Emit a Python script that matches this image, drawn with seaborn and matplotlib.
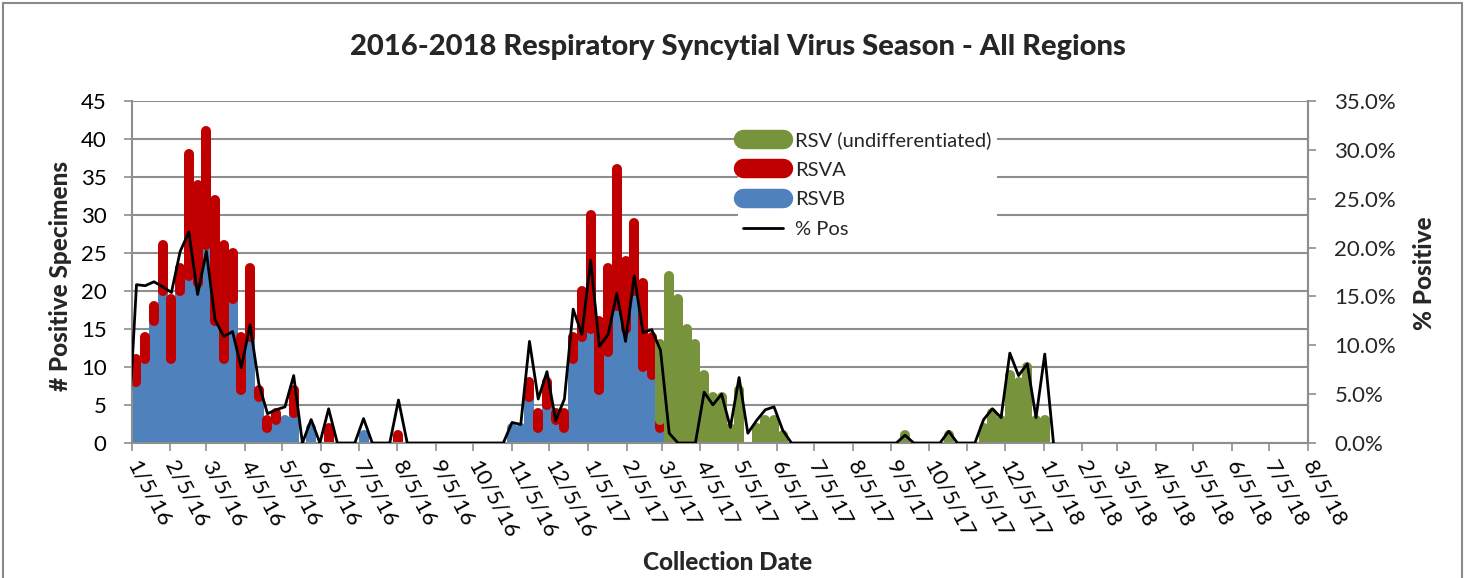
import matplotlib
matplotlib.use("Agg")
import matplotlib.pyplot as plt
from matplotlib.lines import Line2D
from matplotlib.patches import Rectangle
from matplotlib.ticker import FuncFormatter
import numpy as np
import pandas as pd
import seaborn as sns

# weekly data, week ending Saturday, 1/2/16 .. 1/13/18
week_start = "2016-01-02"
n_weeks = 107

rsvb = [0, 8, 11, 16, 20, 11, 20, 22, 21, 26, 16, 11, 19, 7, 14, 6, 2, 3, 3, 4,
        0, 2, 0, 0, 0, 0, 0, 1] + [0] * 16 + \
       [2, 2, 6, 2, 5, 3, 2, 11, 14, 15, 7, 12, 18, 15, 20, 10, 9, 2] + [0] * 45

rsva = [0, 3, 3, 2, 6, 8, 3, 16, 13, 15, 16, 15, 6, 7, 9, 1, 1, 1, 0, 3,
        0, 0, 0, 2, 0, 0, 0, 0, 0, 0, 0, 1] + [0] * 12 + \
       [0, 0, 2, 2, 3, 1, 2, 3, 6, 15, 9, 11, 18, 9, 9, 11, 5, 1] + [0] * 45

rsv_undiff = [0] * 61 + \
             [10, 22, 19, 15, 13, 9, 6, 6, 2, 7, 0, 2, 3, 3, 1] + [0] * 13 + \
             [1, 0, 0, 0, 0, 1, 0, 0, 0, 2, 4, 3, 9, 8, 10, 3, 3, 0]

pct_pos = [0, 16.2, 16.1, 16.5, 16.0, 15.4, 19.6, 21.6, 15.2, 19.6, 12.6, 10.9,
           11.4, 7.7, 12.1, 6.1, 3.0, 3.4, 3.7, 6.9, 0, 2.4, 0, 3.5, 0, 0, 0,
           2.5, 0, 0, 0, 4.4] + [0] * 12 + \
          [2.1, 1.9, 10.4, 4.5, 7.3, 2.3, 4.5, 13.7, 11.1, 18.7, 9.9, 11.1,
           15.3, 10.4, 17.1, 11.3, 11.6, 9.5, 1.0, 0, 0, 0, 5.2, 3.9, 5.0, 1.6,
           6.7, 1.0, 2.3, 3.4, 3.7, 1.3] + [0] * 13 + \
          [0.8, 0, 0, 0, 0, 1.2, 0, 0, 0, 2.4, 3.5, 2.6, 9.2, 6.9, 8.1, 2.6, 9.1, 0]

tick_dates = pd.date_range("2016-01-05", "2018-08-05", freq=pd.DateOffset(months=1))
tick_labels = [f"{d.month}/{d.day}/{d.year % 100}" for d in tick_dates]

df = pd.DataFrame({
    "date": pd.date_range(week_start, periods=n_weeks, freq="7D"),
    "RSVB": rsvb,
    "RSVA": rsva,
    "RSV": rsv_undiff,
    "pct": pct_pos,
})

BLUE = "#4F81BD"
RED = "#C00000"
GREEN = "#77933C"
GRID = "#8E8E8E"

sns.set_theme(style="white")
plt.rcParams["font.family"] = ["Lato", "DejaVu Sans"]

W, H = 1469, 578
fig = plt.figure(figsize=(W / 100, H / 100), dpi=100)
x0, x1, y0, y1 = 131.5, 1308, 101, 443
ax = fig.add_axes([x0 / W, 1 - y1 / H, (x1 - x0) / W, (y1 - y0) / H])

# stacked weekly columns drawn as thick rounded strokes
lw_bar = 7.2
b = df["RSVB"].to_numpy()
a = df["RSVA"].to_numpy()
g = df["RSV"].to_numpy()
d = df["date"].to_numpy()
for bottom, height, col in [(np.zeros(n_weeks), b, BLUE), (b, a, RED), (b + a, g, GREEN)]:
    m = height > 0
    ax.vlines(d[m], bottom[m], (bottom + height)[m], colors=col,
              linewidth=lw_bar, capstyle="round", zorder=2)

ax.set_ylim(0, 45)
ax.set_yticks(range(0, 46, 5))
ax.set_xlim(tick_dates[0], tick_dates[-1])
ax.set_xticks(tick_dates)
ax.set_xticklabels(tick_labels, rotation=-62, ha="left", va="center",
                   rotation_mode="anchor")
ax.grid(axis="y", color=GRID, linewidth=1.5)
ax.set_axisbelow(True)
for side in ["left", "bottom", "right"]:
    ax.spines[side].set_color(GRID)
    ax.spines[side].set_linewidth(1.5)
ax.spines["top"].set_visible(False)
ax.tick_params(axis="both", direction="out", length=6, width=1.2, color=GRID,
               labelsize=16, labelcolor="black")
ax.tick_params(axis="x", pad=8, bottom=True)
ax.tick_params(axis="y", left=True, pad=12)

ax2 = ax.twinx()
sns.lineplot(data=df, x="date", y="pct", ax=ax2, color="black", linewidth=2.0,
             zorder=3)
ax2.set_ylim(0, 35)
ax2.set_yticks(range(0, 36, 5))
ax2.yaxis.set_major_formatter(FuncFormatter(lambda v, p: f"{v:.1f}%"))
ax2.set_xlim(tick_dates[0], tick_dates[-1])
ax2.set_ylabel("")
ax2.set_xlabel("")
for side in ["left", "top", "bottom"]:
    ax2.spines[side].set_visible(False)
ax2.spines["right"].set_color(GRID)
ax2.spines["right"].set_linewidth(1.5)
ax2.tick_params(axis="y", right=True, direction="out", length=6, width=1.2,
                color=GRID, labelsize=16, pad=13)
ax.set_xlabel("")
ax.set_ylabel("")

handles = [
    Line2D([], [], color=GREEN, lw=14, solid_capstyle="round"),
    Line2D([], [], color=RED, lw=14, solid_capstyle="round"),
    Line2D([], [], color=BLUE, lw=14, solid_capstyle="round"),
    Line2D([], [], color="black", lw=2),
]
leg = ax2.legend(handles, ["RSV (undifferentiated)", "RSVA", "RSVB", "% Pos"],
                 loc="upper left", bbox_to_anchor=((738 - x0) / (x1 - x0), (y1 - 126) / (y1 - y0)),
                 borderaxespad=0, frameon=True, fontsize=14.5, handlelength=2.0,
                 handletextpad=0.6, labelspacing=0.62, borderpad=0.25)
leg.get_frame().set_facecolor("white")
leg.get_frame().set_edgecolor("none")
leg.get_frame().set_alpha(1)

fig.text(738 / W, 1 - 47 / H, "2016-2018 Respiratory Syncytial Virus Season - All Regions",
         ha="center", va="center", fontsize=21, fontweight="black")
fig.text(60 / W, 1 - 276 / H, "# Positive Specimens", rotation=90,
         ha="center", va="center", fontsize=17.5, fontweight="black")
fig.text(1424 / W, 1 - 273 / H, "% Positive", rotation=90,
         ha="center", va="center", fontsize=17.5, fontweight="black")
fig.text(728 / W, 1 - 562 / H, "Collection Date",
         ha="center", va="center", fontsize=17.5, fontweight="black")

fig.add_artist(Rectangle((3 / W, -0.02), (1462 - 3) / W, 1.02 - 3 / H,
                         transform=fig.transFigure, fill=False,
                         edgecolor="#8A8A8A", linewidth=1.5))

fig.savefig("out.png", dpi=100)
